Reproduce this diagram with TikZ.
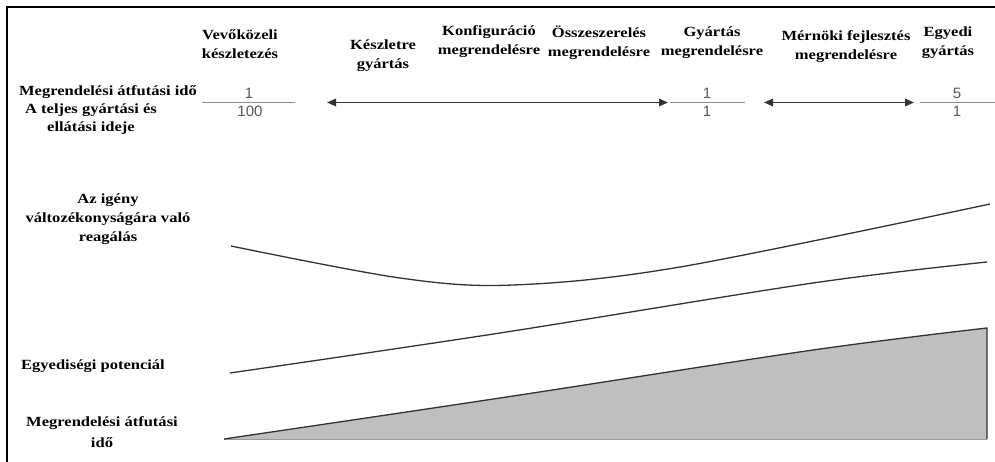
\documentclass[tikz,border=0pt]{standalone}
\usepackage{fontspec}
\setmainfont{Liberation Serif}[FakeStretch=1.18]
\newfontfamily\numfont{Liberation Sans}
\usetikzlibrary{arrows.meta}

\begin{document}
\begin{tikzpicture}[x=1pt,y=-1pt,
  lbl/.style={font=\fontsize{14}{19}\selectfont\bfseries, align=center, inner sep=0pt},
  num/.style={font=\numfont\fontsize{15}{15}\selectfont, text=black!65, inner sep=0pt},
  fracbar/.style={draw=black!45, line width=1.6pt},
  span/.style={draw=black!80, line width=1.6pt,
    {Triangle[length=9pt,width=7.5pt]}-{Triangle[length=9pt,width=7.5pt]}},
  trend/.style={draw=black!80, line width=1.3pt},
]
\useasboundingbox (0,0) rectangle (995,462);
\fill[white] (0,0) rectangle (995,462);

% frame
\draw[line width=2.5pt] (995,7) -- (7,7) -- (7,462);

% strategy headings
\node[lbl] (h1) at (240,44.5) {Vevőközeli\\készletezés};
\node[lbl] (h2) at (383,56) {Készletre\\gyártás};
\node[lbl] (h3) at (489,41.5) {Konfiguráció\\megrendelésre};
\node[lbl] (h4) at (599,42.5) {Összeszerelés\\megrendelésre};
\node[lbl] (h5) at (712,42.5) {Gyártás\\megrendelésre};
\node[lbl] (h6) at (846,46.5) {Mérnöki fejlesztés\\megrendelésre};
\node[lbl] (h7) at (948,42.5) {Egyedi\\gyártás};

% row labels
\node[lbl] (r1) at (108,92) {Megrendelési átfutási idő};
\node[lbl, font=\fontsize{14}{18}\selectfont\bfseries] (r1b) at (91,119) {A teljes gyártási és\\ellátási ideje};
\node[lbl] (r2) at (108,219) {Az igény\\változékonyságára való\\reagálás};
\node[lbl] (r3) at (93,366) {Egyediségi potenciál};
\node[lbl, font=\fontsize{14}{21}\selectfont\bfseries] (r4) at (102,432) {Megrendelési átfutási\\idő};

% lead-time ratios
\node[num] (n1) at (249,93) {1};
\node[num] (d1) at (250,111.5) {100};
\draw[fracbar] (202,102.5) coordinate (f1a) -- (295,102.5) coordinate (f1b);

\node[num] (n2) at (707,93) {1};
\node[num] (d2) at (707,111.5) {1};
\draw[fracbar] (670,102.5) coordinate (f2a) -- (745,102.5) coordinate (f2b);

\node[num] (n3) at (957,93) {5};
\node[num] (d3) at (957,111.5) {1};
\draw[fracbar] (920,102.5) coordinate (f3a) -- (995,102.5) coordinate (f3b);

% spans
\coordinate (s1a) at (327,102.5);
\coordinate (s1b) at (668,102.5);
\coordinate (s2a) at (764,102.5);
\coordinate (s2b) at (914,102.5);
\draw[span] (s1a) -- (s1b);
\draw[span] (s2a) -- (s2b);

% responsiveness to demand variability
\draw[trend] plot[smooth, tension=0.55] coordinates
  {(231,246) (400,278) (513,285) (680,267) (990,204)};

% customisation potential
\draw[trend] plot[smooth, tension=0.55] coordinates
  {(230,373) (500,333) (813,283) (987,262)};

% order lead time
\fill[black!25] plot[smooth, tension=0.55] coordinates
  {(224,439) (500,398) (813,350) (987,328)} -- (987,439) -- cycle;
\draw[black!40, line width=1pt] (224,439) -- (987,439);
\draw[trend] plot[smooth, tension=0.55] coordinates
  {(224,439) (500,398) (813,350) (987,328)} -- (987,439);
\end{tikzpicture}
\end{document}
